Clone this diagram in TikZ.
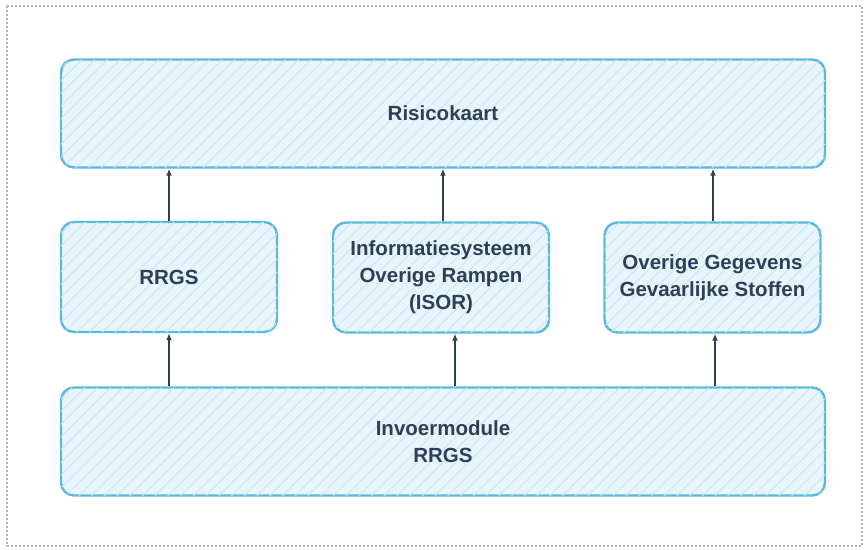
\documentclass[tikz,border=0pt]{standalone}
\usepackage{fontspec}
\setmainfont{Liberation Sans}
\usetikzlibrary{arrows.meta,patterns.meta}

\definecolor{boxline}{HTML}{5CB9DE}
\definecolor{boxfill}{HTML}{E8F6FB}
\definecolor{hatch}{HTML}{CBE9F4}
\definecolor{ink}{HTML}{2E3F56}
\definecolor{frame}{HTML}{B4B4B4}

\tikzstyle{module} = [draw=boxline, line width=2.4pt, rounded corners=13pt,
    fill=boxfill, postaction={pattern={Lines[angle=45,distance=9pt,line width=1pt]}, pattern color=hatch},
    text=ink, font=\bfseries\fontsize{20.5}{27}\selectfont, align=center, inner sep=0pt]
\tikzstyle{wide module} = [module, minimum width=764pt, minimum height=108pt]
\tikzstyle{small module} = [module, minimum width=216pt, minimum height=110pt]
\tikzstyle{feed} = [draw, line width=1.6pt, ink, -{Latex[length=7pt,width=6pt]}]

\begin{document}
\begin{tikzpicture}[x=1pt, y=-1pt]
    \useasboundingbox (0,0) rectangle (867,549);
    % dotted frame around the whole figure
    \draw[frame, line width=1.3pt, dash pattern=on 2pt off 2pt] (7,6) rectangle (862,546);
    % the two wide layers
    \foreach \pos/\name/\txt in {{(443,113.5)/risico/Risicokaart},
        {(443,441.5)/invoer/Invoermodule\\RRGS}}
    \node[wide module] (\name) at \pos {\txt};
    % the three sources in between
    \foreach \pos/\name/\txt in {{(169,277)/rrgs/RRGS},
        {(441,277.5)/isor/Informatiesysteem\\Overige Rampen\\(ISOR)},
        {(712.5,277.5)/oggs/Overige Gegevens\\Gevaarlijke Stoffen}}
    \node[small module] (\name) at \pos {\txt};
    % arrows up to the map
    \foreach \src/\dx in {rrgs/0pt,isor/2pt,oggs/0.5pt}
    \path[feed] ([xshift=\dx]\src.north) -- ([xshift=\dx]\src.north |- risico.south);
    % arrows up from the input module
    \foreach \dest/\dx in {rrgs/0pt,isor/14pt,oggs/2.5pt}
    \path[feed] ([xshift=\dx]\dest.south |- invoer.north) -- ([xshift=\dx]\dest.south);
\end{tikzpicture}
\end{document}
